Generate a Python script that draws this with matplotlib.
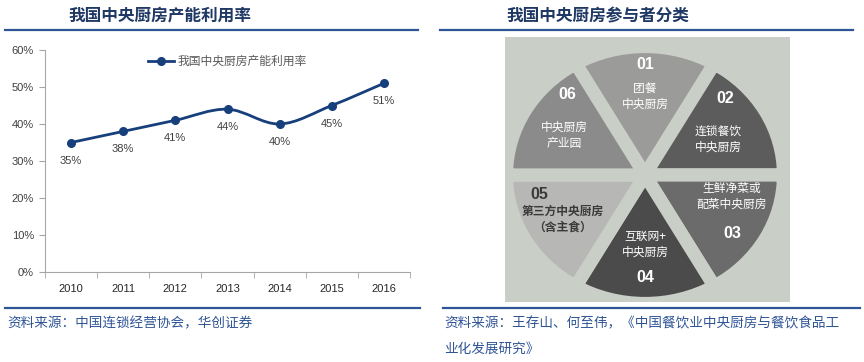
import numpy as np
import matplotlib
matplotlib.use("Agg")
import matplotlib.pyplot as plt
from matplotlib.path import Path
from matplotlib.patches import PathPatch
from matplotlib.lines import Line2D

plt.rcParams['font.family'] = ['Noto Sans CJK SC', 'DejaVu Sans']

# ---------------- data ----------------
years = ['2010', '2011', '2012', '2013', '2014', '2015', '2016']
utilization = [35, 38, 41, 44, 40, 45, 51]          # %
series_name = '我国中央厨房产能利用率'
y_ticks = [0, 10, 20, 30, 40, 50, 60]

left_title = '我国中央厨房产能利用率'
right_title = '我国中央厨房参与者分类'
left_source = '资料来源：中国连锁经营协会，华创证券'
right_source = '资料来源：王存山、何至伟，《中国餐饮业中央厨房与餐饮食品工\n业化发展研究》'

seg_numbers = ['01', '02', '03', '04', '05', '06']
seg_labels = ['团餐\n中央厨房', '连锁餐饮\n中央厨房', '生鲜净菜或\n配菜中央厨房',
              '互联网+\n中央厨房', '第三方中央厨房\n（含主食）', '中央厨房\n产业园']
seg_sizes = [1, 1, 1, 1, 1, 1]
seg_colors = ['#9b9b9a', '#5c5c5c', '#6b6b6b', '#4b4b4b', '#b7b8b5', '#8b8b8b']
seg_text_colors = ['white', 'white', 'white', 'white', '#3a3a3a', 'white']

W, H = 864, 362
fig = plt.figure(figsize=(W / 100, H / 100), dpi=100)

def fx(px):
    return px / W

def fy(py):
    return 1 - py / H

title_color = '#1f3864'
rule_color = '#2f5597'
src_color = '#2f5597'

# ---------- titles and rules ----------
fig.text(fx(160), fy(16), left_title, ha='center', va='center', fontsize=12,
         fontweight='bold', color=title_color)
fig.text(fx(598), fy(16), right_title, ha='center', va='center', fontsize=12,
         fontweight='bold', color=title_color)
for x0, x1, y in [(5, 418, 30), (440, 853, 30), (5, 420, 308), (443, 860, 308)]:
    fig.add_artist(Line2D([fx(x0), fx(x1)], [fy(y), fy(y)], color=rule_color, lw=1.6))

fig.text(fx(7), fy(323), left_source, ha='left', va='center', fontsize=9.8,
         color=src_color, style='italic')
fig.text(fx(444), fy(336), right_source, ha='left', va='center', fontsize=9.8,
         color=src_color, style='italic', linespacing=2.0)

# ---------- line chart ----------
ax = fig.add_axes([fx(45), fy(272), fx(410 - 45), (272 - 50) / H])
x = np.arange(len(years))
yv = np.array(utilization, dtype=float)
line_color = '#173f7c'

# smoothed curve (Catmull-Rom style Bezier through the data points)
pts = np.column_stack([x, yv])
ext = np.vstack([pts[0], pts, pts[-1]])
verts = [tuple(pts[0])]
codes = [Path.MOVETO]
for i in range(len(pts) - 1):
    p0, p1, p2, p3 = ext[i], ext[i + 1], ext[i + 2], ext[i + 3]
    c1 = p1 + (p2 - p0) / 6.0
    c2 = p2 - (p3 - p1) / 6.0
    verts += [tuple(c1), tuple(c2), tuple(p2)]
    codes += [Path.CURVE4] * 3
ax.add_patch(PathPatch(Path(verts, codes), facecolor='none', edgecolor=line_color,
                       lw=2.0, capstyle='round', joinstyle='round'))
ax.plot(x, yv, linestyle='none', marker='o', markersize=5.5, color=line_color)
for xi, yi in zip(x, yv):
    ax.annotate(f'{int(yi)}%', (xi, yi), xytext=(0, -13), textcoords='offset points',
                ha='center', va='center', fontsize=8, color='#404040',
                family=['Liberation Sans', 'DejaVu Sans'])

ax.set_xlim(-0.5, len(years) - 0.5)
ax.set_ylim(0, 60)
ax.set_yticks(y_ticks)
ax.set_yticklabels([f'{t}%' for t in y_ticks], family=['Liberation Sans', 'DejaVu Sans'],
                   fontsize=8, color='#404040')
ax.set_xticks(x)
ax.set_xticklabels(years, family=['Liberation Sans', 'DejaVu Sans'], fontsize=8,
                   color='#262626')
ax.set_xticks(np.arange(-0.5, len(years)), minor=True)
ax.tick_params(axis='x', which='major', length=0, pad=9)
ax.tick_params(axis='x', which='minor', length=4, color='#a6a6a6', direction='out')
ax.tick_params(axis='y', length=4, color='#a6a6a6', direction='out', pad=4)
for s in ['top', 'right']:
    ax.spines[s].set_visible(False)
for s in ['left', 'bottom']:
    ax.spines[s].set_color('#a6a6a6')
    ax.spines[s].set_linewidth(0.8)

handle = Line2D([], [], color=line_color, lw=2.0, marker='o', markersize=5.5)
leg = ax.legend([handle], [series_name], loc='upper center', bbox_to_anchor=(0.5, 1.0),
                frameon=False, fontsize=8.5, handlelength=2.2, handletextpad=0.3,
                borderaxespad=0)
for t in leg.get_texts():
    t.set_color('#595959')

# ---------- participant diagram ----------
rx, ry = 138.5, 128.5      # pixel radii (incl. gap stroke)
cx, cy = 645, 175          # pixel centre
bx0, bx1, by0, by1 = 505, 790, 37, 302
photo_bg = '#c9cec6'
pax = fig.add_axes([fx(bx0), fy(by1), fx(bx1 - bx0), (by1 - by0) / H])
wedges, _ = pax.pie(seg_sizes, colors=seg_colors, startangle=120, counterclock=False,
                    radius=1.0,
                    wedgeprops=dict(edgecolor=photo_bg, linewidth=9.5, joinstyle='miter'))
for w in wedges:
    w.set_clip_on(True)
pax.set_aspect('auto')
pax.set_xlim((bx0 - cx) / rx, (bx1 - cx) / rx)
pax.set_ylim((cy - by1) / ry, (cy - by0) / ry)
pax.set_frame_on(True)
for s in pax.spines.values():
    s.set_visible(False)
pax.set_facecolor(photo_bg)

# text placement: (angle deg, radius fraction) for number and label
num_pos = [(90, 0.86), (46, 0.83), (-36, 0.78), (-90, 0.80), (191, 0.78), (132, 0.84)]
lab_pos = [(90, 0.61), (28, 0.60), (-15, 0.65), (-90, 0.54), (210, 0.69), (152, 0.66)]
for i in range(len(seg_numbers)):
    a, r = num_pos[i]
    pax.text(r * np.cos(np.radians(a)), r * np.sin(np.radians(a)), seg_numbers[i],
             ha='center', va='center', fontsize=11.5, fontweight='bold',
             color=seg_text_colors[i], family=['Liberation Sans', 'DejaVu Sans'])
    a, r = lab_pos[i]
    pax.text(r * np.cos(np.radians(a)), r * np.sin(np.radians(a)), seg_labels[i],
             ha='center', va='center', fontsize=8.5, color=seg_text_colors[i],
             linespacing=1.3, fontweight='bold' if i == 4 else 'normal')

fig.savefig('out.png', dpi=100)
